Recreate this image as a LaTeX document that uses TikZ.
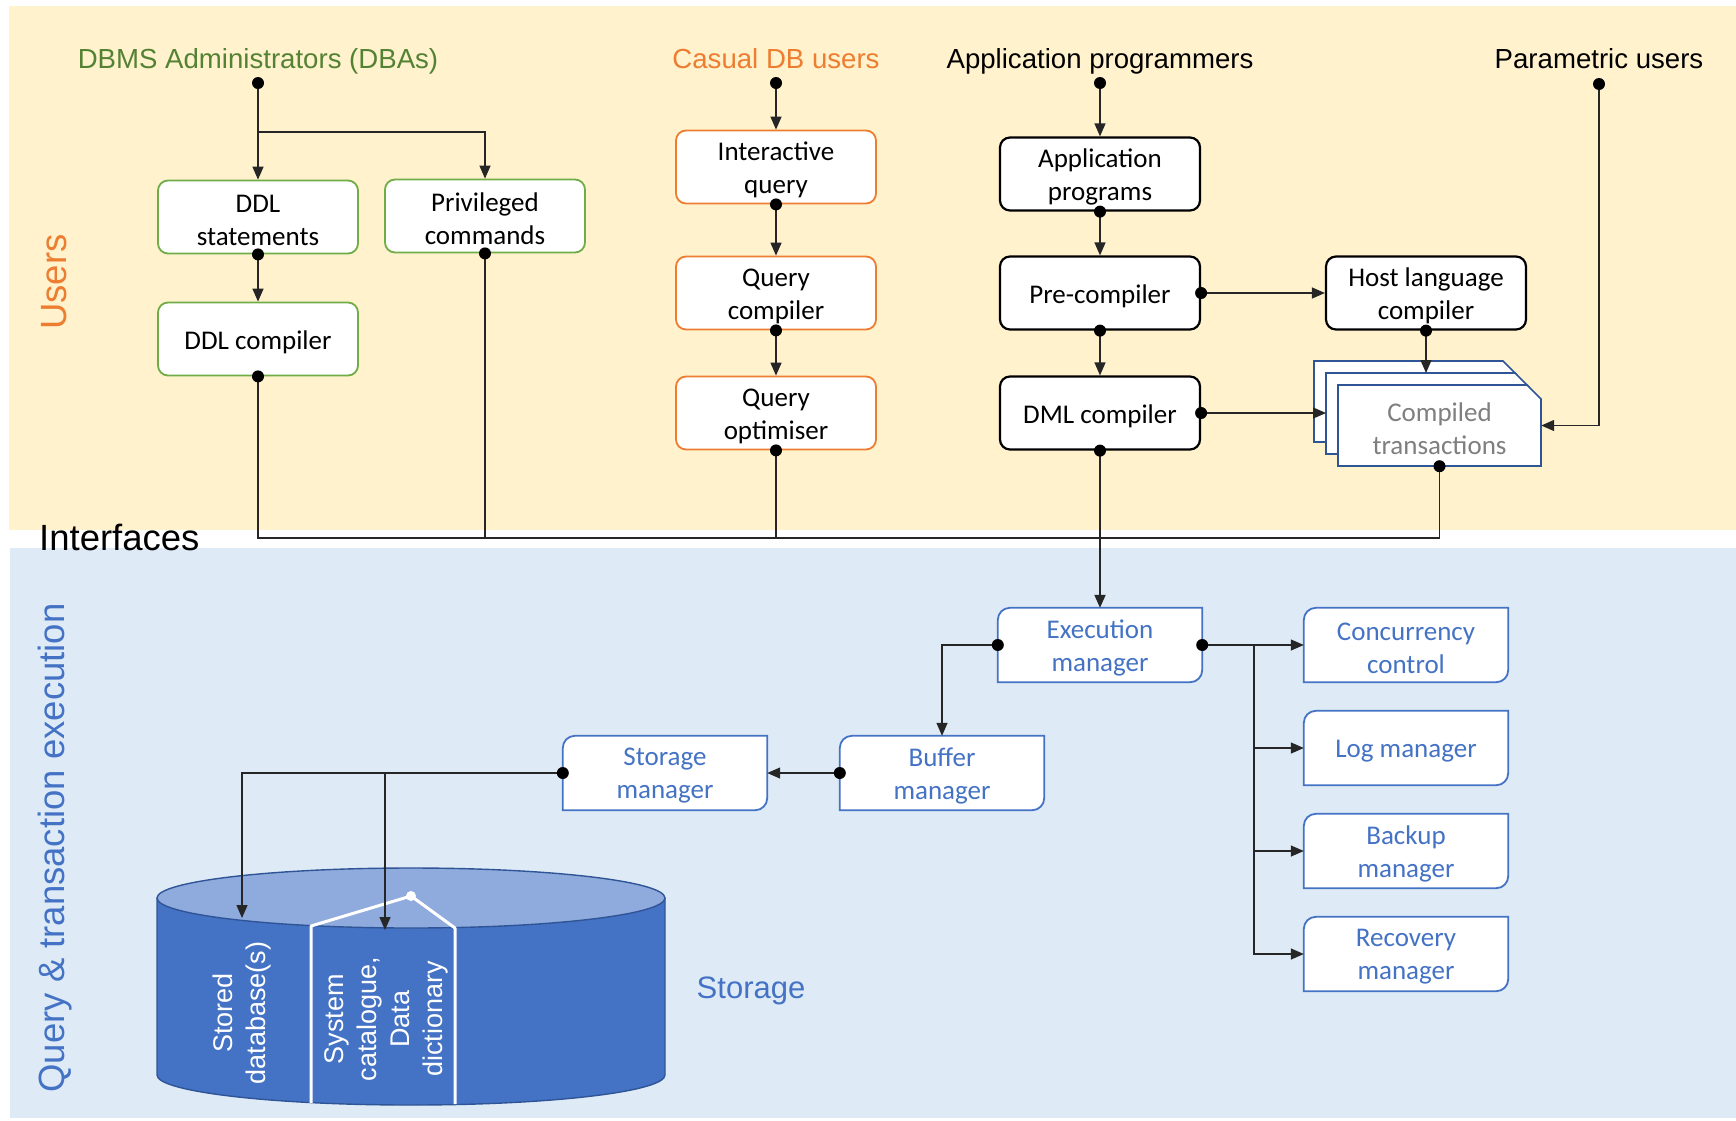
\documentclass[tikz,border=0pt]{standalone}
\usepackage{fontspec}
\setmainfont{Carlito}
\newfontfamily\arial{Liberation Sans}
\usetikzlibrary{arrows.meta,calc}

\definecolor{usersbg}{HTML}{FFF2CC}
\definecolor{execbg}{HTML}{DEEBF7}
\definecolor{dbagreen}{HTML}{548235}
\definecolor{boxgreen}{HTML}{70AD47}
\definecolor{casualorange}{HTML}{ED7D31}
\definecolor{mgrblue}{HTML}{4472C4}
\definecolor{docblue}{HTML}{2F5597}
\definecolor{cyltop}{HTML}{8FAADC}
\definecolor{cylside}{HTML}{4472C4}
\definecolor{doctext}{HTML}{7F7F7F}

\pgfdeclarelayer{bg}
\pgfdeclarelayer{shapes}
\pgfsetlayers{bg,shapes,main}

\tikzset{
  basebox/.style={minimum width=200pt, minimum height=73pt,
    inner sep=0pt, rounded corners=10pt, line width=1.8pt, fill=white},
  greenbox/.style={basebox, draw=boxgreen},
  orangebox/.style={basebox, draw=casualorange},
  blackbox/.style={basebox, draw=black, line width=2.2pt},
  mgrbox/.style={minimum width=204pt, minimum height=74pt, inner sep=0pt},
  mgrframe/.style={draw=mgrblue, fill=white, line width=1.8pt},
  docsheet/.style={draw=docblue, fill=white, line width=1.6pt},
  boxtext/.style={align=center, inner sep=0pt},
  role/.style={font=\arial\fontsize{27.6}{33}\selectfont, anchor=base},
  zone/.style={font=\arial\fontsize{36.5}{42}\selectfont},
  link/.style={line width=1.3pt, draw=black!85},
  arr/.style={link, -{Triangle[length=13pt,width=11pt]}},
}

% a box and its caption, the caption set a little below the box centre
% #1 box style, #2 name, #3 centre, #4 caption, #5 caption style
\newcommand\boxnode[5]{%
  \node[#1] (#2) at #3 {};
  \node[boxtext, #5] (#2-text) at ([yshift=-3pt]#2.center) {#4};}

% manager box outline: rounded top-left and bottom-right corners only
\newcommand\managerframe[1]{%
  \begin{pgfonlayer}{shapes}
  \draw[mgrframe] ([xshift=12pt]#1.north west) -- (#1.north east)
    -- ([yshift=12pt]#1.south east)
    .. controls ([yshift=5.4pt]#1.south east) and ([xshift=-5.4pt]#1.south east) .. ([xshift=-12pt]#1.south east)
    -- (#1.south west) -- ([yshift=-12pt]#1.north west)
    .. controls ([yshift=-5.4pt]#1.north west) and ([xshift=5.4pt]#1.north west) .. ([xshift=12pt]#1.north west)
    -- cycle;
  \end{pgfonlayer}}

% one sheet of the stacked document symbol, given its top-left corner
\newcommand\docpage[2]{%
  \draw[docsheet] (#1,#2) -- ++(189,0) -- ++(14,14) -- ++(0,67) -- ++(-203,0) -- cycle;}

\newcommand\jdot[1]{\fill[black] (#1) circle[radius=6pt];}

\begin{document}
\begin{tikzpicture}[x=1pt, y=-1pt, font=\fontsize{27}{33}\selectfont]
\useasboundingbox (0,0) rectangle (1736,1120);

% bands
\begin{pgfonlayer}{bg}
  \fill[white] (0,0) rectangle (1736,1120);
  \fill[usersbg] (9,6) rectangle (1736,530);
  \fill[execbg] (10,548) rectangle (1736,1118);
\end{pgfonlayer}

% band titles
\node[zone, rotate=90, text=casualorange] (userslbl) at (54,282) {Users};
\node[zone, rotate=90, text=mgrblue] (qtelbl) at (55,848) {Query \& transaction execution};
\node[zone, anchor=west, inner sep=0pt] (iflbl) at (39,537) {Interfaces};
\node[font=\arial\fontsize{31}{36}\selectfont, text=mgrblue] (storlbl) at (751,991) {Storage};

% user groups
\node[role, text=dbagreen] (dba) at (258,68) {DBMS Administrators (DBAs)};
\node[role, text=casualorange] (casual) at (776,68) {Casual DB users};
\node[role] (appprog) at (1100,68) {Application programmers};
\node[role] (param) at (1599,68) {Parametric users};

\coordinate (dbadot) at (258,83);
\coordinate (dbafork) at (258,132);
\coordinate (cdot) at (776,83);
\coordinate (adot) at (1100,83);
\coordinate (pdot) at (1599,84);

% DBA path
\boxnode{greenbox}{ddls}{(258,217)}{DDL\\statements}{}
\boxnode{greenbox}{ddlc}{(258,339)}{DDL compiler}{}
\boxnode{greenbox}{priv}{(485,216)}{Privileged\\commands}{}

% casual users path
\boxnode{orangebox}{iq}{(776,167)}{Interactive\\query}{}
\boxnode{orangebox}{qc}{(776,293)}{Query\\compiler}{}
\boxnode{orangebox}{qopt}{(776,413)}{Query\\optimiser}{}

% application programmer path
\boxnode{blackbox}{appp}{(1100,174)}{Application\\programs}{}
\boxnode{blackbox}{pre}{(1100,293)}{Pre-compiler}{}
\boxnode{blackbox}{dml}{(1100,413)}{DML compiler}{}
\boxnode{blackbox}{host}{(1426,293)}{Host language\\compiler}{}

% compiled transactions (stacked documents)
\begin{pgfonlayer}{shapes}
  \docpage{1314}{361}
  \docpage{1326}{373}
  \docpage{1338}{385}
\end{pgfonlayer}
\boxnode{minimum width=203pt, minimum height=81pt, inner sep=0pt}{cmp}{(1439.5,425.5)}{Compiled\\transactions}{text=doctext}
\coordinate (midtop) at (1426,373);
\coordinate (midleft) at (1326,413);

% execution components
\boxnode{mgrbox}{exec}{(1100,645)}{Execution\\manager}{text=mgrblue}
\boxnode{mgrbox}{conc}{(1406,645)}{Concurrency\\control}{text=mgrblue}
\boxnode{mgrbox}{logm}{(1406,748)}{Log manager}{text=mgrblue}
\boxnode{mgrbox}{bkp}{(1406,851)}{Backup\\manager}{text=mgrblue}
\boxnode{mgrbox}{rec}{(1406,954)}{Recovery\\manager}{text=mgrblue}
\boxnode{mgrbox}{buf}{(942,773)}{Buffer\\manager}{text=mgrblue}
\boxnode{mgrbox}{stor}{(665,773)}{Storage\\manager}{text=mgrblue}
\managerframe{exec}
\managerframe{conc}
\managerframe{logm}
\managerframe{bkp}
\managerframe{rec}
\managerframe{buf}
\managerframe{stor}

% storage cylinder
\begin{pgfonlayer}{shapes}
  \fill[cylside] (157,898) -- (157,1075)
    arc[start angle=180, end angle=360, x radius=254pt, y radius=30pt] -- (665,898) -- cycle;
  \draw[docblue, line width=1.4pt] (157,898) -- (157,1075)
    arc[start angle=180, end angle=360, x radius=254pt, y radius=30pt] -- (665,898);
  \filldraw[fill=cyltop, draw=docblue, line width=1.4pt] (411,898) ellipse[x radius=254pt, y radius=30pt];
  \draw[white, line width=3pt, line join=round] (311,1103) -- (311,926) -- (411,896) -- (455,928) -- (455,1104);
  \fill[white] (411,896) circle[radius=5pt];
\end{pgfonlayer}
\node[rotate=90, text=white, align=center, font=\arial\fontsize{27}{33}\selectfont]
  (storeddb) at (242,1013) {Stored\\database(s)};
\node[rotate=90, text=white, align=center, font=\arial\fontsize{27}{33}\selectfont]
  (syscat) at (386,1019) {System\\catalogue,\\Data\\dictionary};
\coordinate (sdbin) at (242,918);
\coordinate (scatin) at (385,930);

% connectors: DBA
\draw[arr] (dbadot) -- (ddls.north);
\draw[arr] (dbafork) -| (priv.north);
\draw[arr] (ddls.south) -- (ddlc.north);

% connectors: casual users
\draw[arr] (cdot) -- (iq.north);
\draw[arr] (iq.south) -- (qc.north);
\draw[arr] (qc.south) -- (qopt.north);

% connectors: application programmers
\draw[arr] (adot) -- (appp.north);
\draw[arr] (appp.south) -- (pre.north);
\draw[arr] (pre.south) -- (dml.north);
\draw[arr] (pre.east) -- (host.west);
\draw[arr] (host.south) -- (host.south |- midtop);
\draw[arr] (dml.east) -- (midleft);

% connectors: parametric users
\draw[arr] (pdot) |- (cmp.east);

% interface bus
\coordinate (bus) at (0,538);
\draw[link] (ddlc.south) -- (ddlc.south |- bus) -- (cmp.south |- bus) -- (cmp.south);
\draw[link] (priv.south) -- (priv.south |- bus);
\draw[link] (qopt.south) -- (qopt.south |- bus);
\draw[link] (dml.south) -- (dml.south |- bus);
\draw[arr, line width=2pt] (dml.south |- bus) -- (exec.north);

% connectors: execution
\coordinate (fork) at (1254,645);
\draw[link, line width=2pt] (exec.east) -- (fork);
\draw[arr] (fork) -- (conc.west);
\draw[arr] (fork) |- (rec.west);
\draw[arr] (fork |- logm.west) -- (logm.west);
\draw[arr] (fork |- bkp.west) -- (bkp.west);
\draw[arr] (exec.west) -| (buf.north);
\draw[arr] (buf.west) -- (stor.east);
\draw[arr] (stor.west) -| (sdbin);
\draw[arr] (stor.west -| scatin) -- (scatin);

% junction dots
\foreach \p in {dbadot, cdot, adot, pdot, ddls.south, ddlc.south, priv.south,
  iq.south, qc.south, qopt.south, appp.south, pre.south, pre.east, dml.east,
  dml.south, host.south, cmp.south, exec.west, exec.east, buf.west, stor.west}
  {\jdot{\p}}
\end{tikzpicture}
\end{document}
